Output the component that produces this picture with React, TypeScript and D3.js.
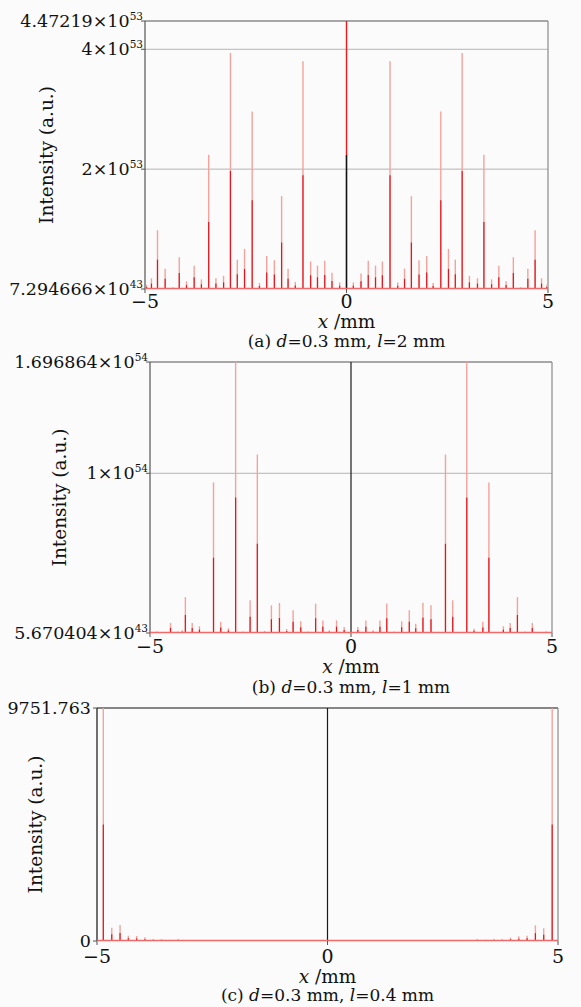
import React from "react";
import * as d3 from "d3";

const W = 581;
const H = 1007;

const xTicks = [-5, 0, 5];

// (a) d=0.3 mm, l=2 mm  -- [x (mm), intensity]
const spikesA: [number, number][] = [
  [-4.96, 0.07e53], [-4.84, 0.18e53], [-4.69, 0.98e53], [-4.5, 0.34e53], [-4.31, 0.03e53],
  [-4.15, 0.53e53], [-3.97, 0.13e53], [-3.78, 0.39e53], [-3.6, 0.16e53], [-3.42, 2.24e53],
  [-3.24, 0.18e53], [-3.05, 0.22e53], [-2.88, 3.94e53], [-2.71, 0.49e53], [-2.53, 0.67e53],
  [-2.34, 2.96e53], [-2.16, 0.1e53], [-1.98, 0.55e53], [-1.79, 0.48e53], [-1.61, 1.55e53],
  [-1.45, 0.34e53], [-1.27, 0.12e53], [-1.08, 3.8e53], [-0.89, 0.46e53], [-0.72, 0.39e53],
  [-0.54, 0.47e53], [-0.36, 0.27e53], [-0.17, 0.11e53],
  [0, 4.47219e53],
  [0.17, 0.11e53], [0.36, 0.26e53], [0.54, 0.47e53], [0.72, 0.39e53], [0.89, 0.46e53],
  [1.08, 3.8e53], [1.27, 0.11e53], [1.44, 0.34e53], [1.61, 1.55e53], [1.8, 0.48e53],
  [1.99, 0.55e53], [2.15, 0.1e53], [2.34, 2.96e53], [2.53, 0.67e53], [2.7, 0.49e53],
  [2.87, 3.94e53], [3.05, 0.22e53], [3.25, 0.18e53], [3.41, 2.24e53], [3.6, 0.16e53],
  [3.78, 0.39e53], [3.96, 0.13e53], [4.14, 0.53e53], [4.32, 0.03e53], [4.5, 0.34e53],
  [4.68, 0.98e53], [4.84, 0.18e53], [4.97, 0.07e53],
];
const yTicksA = [7.294666e43, 2e53, 4e53, 4.47219e53];
const yTextA: [string, string][] = [["7.294666", "43"], ["2", "53"], ["4", "53"], ["4.47219", "53"]];

// (b) d=0.3 mm, l=1 mm
const spikesB: [number, number][] = [
  [-4.83, 0.01e54], [-4.49, 0.063e54], [-4.31, 0.01e54], [-4.2, 0.017e54], [-4.12, 0.225e54],
  [-3.95, 0.063e54], [-3.77, 0.042e54], [-3.42, 0.943e54], [-3.24, 0.07e54], [-3.05, 0.03e54],
  [-2.87, 1.696864e54], [-2.69, 0.01e54], [-2.51, 0.205e54], [-2.33, 1.117e54], [-2.15, 0.013e54],
  [-1.98, 0.173e54], [-1.78, 0.188e54], [-1.6, 0.025e54], [-1.44, 0.142e54], [-1.25, 0.073e54],
  [-1.07, 0.01e54], [-0.88, 0.184e54], [-0.7, 0.079e54], [-0.54, 0.017e54], [-0.36, 0.079e54],
  [-0.17, 0.038e54],
  [0.17, 0.038e54], [0.37, 0.079e54], [0.55, 0.017e54], [0.72, 0.079e54], [0.89, 0.184e54],
  [1.07, 0.01e54], [1.26, 0.073e54], [1.45, 0.142e54], [1.61, 0.058e54], [1.79, 0.19e54],
  [1.99, 0.173e54], [2.35, 1.117e54], [2.53, 0.205e54], [2.88, 1.696864e54], [3.06, 0.027e54],
  [3.28, 0.07e54], [3.43, 0.943e54], [3.79, 0.042e54], [3.96, 0.063e54], [4.14, 0.225e54],
  [4.33, 0.01e54], [4.51, 0.063e54], [4.86, 0.01e54],
];
const yTicksB = [5.670404e43, 1e54, 1.696864e54];
const yTextB: [string, string][] = [["5.670404", "43"], ["1", "54"], ["1.696864", "54"]];

// (c) d=0.3 mm, l=0.4 mm
const spikesC: [number, number][] = [
  [-4.863, 9751.763], [-4.68, 557], [-4.5, 670], [-4.32, 223], [-4.14, 209], [-3.96, 153],
  [-3.78, 84], [-3.6, 84], [-3.42, 56], [-3.24, 84], [-3.06, 42], [-2.88, 35], [-2.7, 35],
  [-2.52, 35], [-2.34, 35], [-1.97, 30], [-1.61, 30], [-1.25, 20],
  [1.26, 20], [1.62, 30], [1.98, 30], [2.35, 35], [2.53, 35], [2.71, 35], [2.89, 35],
  [3.07, 42], [3.25, 84], [3.43, 56], [3.61, 84], [3.79, 84], [3.97, 140], [4.15, 195],
  [4.33, 223], [4.51, 657], [4.69, 530], [4.874, 9751.763],
];
const yTicksC = [0, 9751.763];
const yTextC: [string, string][] = [["0", ""], ["9751.763", ""]];

const FONT = "DejaVu Serif, serif";
const LIGHT = "#f4a29c";
const DARK = "#e5141c";

type PanelProps = {
  left: number; right: number; top: number; bottom: number;
  spikes: [number, number][];
  yTicks: number[]; yText: [string, string][];
  gridTicks: number[];
  zeroTop: number; // value up to which the black x=0 line reaches
  frame: string;
  titleX: number;
  tickY: number; labelY: number; capY: number;
  caption: [string, string];
};

function Panel(p: PanelProps) {
  const yMin = p.yTicks[0];
  const yMax = p.yTicks[p.yTicks.length - 1];
  const x = d3.scaleLinear().domain([-5, 5]).range([p.left, p.right]);
  const y = d3.scaleLinear().domain([yMin, yMax]).range([p.bottom, p.top]);
  const cx = (p.left + p.right) / 2;
  return (
    <g style={{ fontFamily: FONT }} fill="#111">
      {p.gridTicks.map((t) => (
        <line key={"g" + t} x1={p.left} x2={p.right} y1={y(t)} y2={y(t)} stroke="#b4b4b4" strokeWidth={1} />
      ))}
      {/* frame */}
      <line x1={p.left} x2={p.right} y1={p.top} y2={p.top} stroke={p.frame} strokeWidth={1.2} />
      <line x1={p.right} x2={p.right} y1={p.top} y2={p.bottom} stroke="#8a8a8a" strokeWidth={1.2} />
      <line x1={p.left} x2={p.left} y1={p.top} y2={p.bottom} stroke={p.frame} strokeWidth={1.2} />
      {/* x=0 line */}
      <line x1={x(0)} x2={x(0)} y1={p.bottom} y2={y(p.zeroTop)} stroke="#1a1a1a" strokeWidth={1.2} />
      {/* spikes: light full height, darker core */}
      {p.spikes.map(([sx, sv], i) => (
        <line key={"l" + i} x1={x(sx)} x2={x(sx)} y1={p.bottom} y2={y(sv)}
          stroke={sx === 0 ? "#f01818" : LIGHT} strokeWidth={1.4} />
      ))}
      {p.spikes.map(([sx, sv], i) => (
        <line key={"d" + i} x1={x(sx)} x2={x(sx)} y1={p.bottom} y2={y(yMin + (sv - yMin) * 0.5)}
          stroke={sx === 0 ? "#111" : DARK} strokeWidth={1.2} />
      ))}
      {/* baseline noise */}
      <line x1={p.left} x2={p.right} y1={p.bottom - 0.5} y2={p.bottom - 0.5} stroke="#f06a6a" strokeWidth={1.6} />
      {/* y ticks */}
      {p.yTicks.map((t, i) => (
        <g key={"y" + i}>
          <line x1={p.left - 4} x2={p.left} y1={y(t)} y2={y(t)} stroke="#555" />
          <text x={p.left - (p.yText[i][1] ? 2 : 6)} y={y(t) + 6} textAnchor="end" fontSize={17.5}>
            {p.yText[i][1] ? (
              <>
                {p.yText[i][0]}×10
                <tspan fontSize={10.5} dy={-7.5}>{p.yText[i][1]}</tspan>
              </>
            ) : p.yText[i][0]}
          </text>
        </g>
      ))}
      {/* x ticks */}
      {xTicks.map((t) => (
        <g key={"x" + t}>
          <line x1={x(t)} x2={x(t)} y1={p.bottom} y2={p.bottom + 4} stroke="#555" />
          <text x={x(t)} y={p.tickY} textAnchor="middle" fontSize={19}>
            {t < 0 ? "\u2212" + Math.abs(t) : t}
          </text>
        </g>
      ))}
      <text x={cx} y={p.labelY} textAnchor="middle" fontSize={18.5}>
        <tspan fontStyle="italic">x</tspan> /mm
      </text>
      <text x={cx} y={p.capY} textAnchor="middle" fontSize={17}>
        (<tspan>{p.caption[0]}</tspan>) <tspan fontStyle="italic">d</tspan>=0.3 mm,{" "}
        <tspan fontStyle="italic">l</tspan>={p.caption[1]} mm
      </text>
      <text transform={`translate(${p.titleX},${(p.top + p.bottom) / 2}) rotate(-90)`}
        textAnchor="middle" dominantBaseline="central" fontSize={18.5}>
        Intensity (a.u.)
      </text>
    </g>
  );
}

export default function App() {
  return (
    <svg width={W} height={H} style={{ position: "absolute", left: 0, top: 0, background: "#fbfbfb" }}>
      <rect width={W} height={H} fill="#fbfbfb" />
      <Panel left={145} right={548} top={21} bottom={289} spikes={spikesA}
        yTicks={yTicksA} yText={yTextA} gridTicks={[2e53, 4e53]} zeroTop={2.24e53}
        frame="#555" titleX={46} tickY={308} labelY={328} capY={347} caption={["a", "2"]} />
      <Panel left={150} right={552} top={362} bottom={633} spikes={spikesB}
        yTicks={yTicksB} yText={yTextB} gridTicks={[1e54]} zeroTop={1.696864e54}
        frame="#555" titleX={59} tickY={653} labelY={673} capY={693} caption={["b", "1"]} />
      <Panel left={97} right={558} top={708} bottom={941} spikes={spikesC}
        yTicks={yTicksC} yText={yTextC} gridTicks={[]} zeroTop={9751.763}
        frame="#111" titleX={35} tickY={963} labelY={983} capY={1001} caption={["c", "0.4"]} />
    </svg>
  );
}
